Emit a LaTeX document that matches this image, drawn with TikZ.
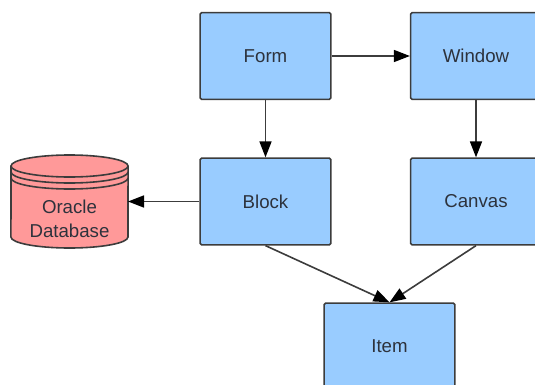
\documentclass[tikz,border=0pt]{standalone}
\usepackage{fontspec}
\setmainfont{Liberation Sans}
\usepackage{tikz}
\usetikzlibrary{calc}
\usetikzlibrary{arrows.meta}
\definecolor{box-blue}{RGB}{153, 204, 255}
\definecolor{db-red}{RGB}{255, 153, 153}
\definecolor{line-gray}{RGB}{60, 60, 60}
\definecolor{text-gray}{RGB}{45, 50, 60}
\tikzset{
	block-box/.style={draw=line-gray,fill=box-blue,rectangle,rounded corners=1pt,line width=1.2pt,minimum width=98pt,minimum height=65pt,text=text-gray,font=\fontsize{14}{18}\selectfont},
	db-area/.style={rectangle,minimum width=87.75pt,minimum height=69.75pt,inner sep=0pt,outer sep=0pt},
	db-rim/.style={draw=line-gray,line width=1.2pt},
	link/.style={draw=line-gray,line width=1.2pt,-{Triangle[length=12pt,width=9pt,color=black]}}
}
\begin{document}
\begin{tikzpicture}[x=0.75pt,y=-0.75pt]
\path [use as bounding box,clip] (0,0) rectangle (535,385);
\node [block-box] (form) at (265.5,56) {Form};
\node [block-box] (window) at (476,56) {Window};
\node [block-box] (block) at (265.5,201.5) {Block};
\node [block-box] (canvas) at (476,201.5) {Canvas};
\node [block-box] (item) at (389.5,346.5) {Item};
\node [db-area] (oracle) at (69.5,201.5) {};
% drum and rim lines
\draw [db-rim,fill=db-red] ($(oracle.north west)+(0,11)$) arc [start angle=180,end angle=0,x radius=43.9pt,y radius=8.25pt] -- ($(oracle.south east)+(0,-11)$) arc [start angle=0,end angle=-180,x radius=43.9pt,y radius=8.25pt] -- cycle;
\draw [db-rim] ($(oracle.north west)+(0,11)$) arc [start angle=180,end angle=360,x radius=43.9pt,y radius=8.25pt];
\draw [db-rim] ($(oracle.north west)+(0,17)$) arc [start angle=180,end angle=360,x radius=43.9pt,y radius=8.25pt];
\draw [db-rim] ($(oracle.north west)+(0,23)$) arc [start angle=180,end angle=360,x radius=43.9pt,y radius=8.25pt];
\node [text=text-gray,align=center,font=\fontsize{14}{18}\selectfont] (oracle-text) at (69.5,219) {Oracle\\Database};
\draw [link] (form) -- (window);
\draw [link] (form) -- (block);
\draw [link] (window) -- (canvas);
\draw [link] (block.west) -- (oracle.east);
\draw [link] (block.south) -- (item.north);
\draw [link] (canvas.south) -- (item.north);
\end{tikzpicture}
\end{document}
